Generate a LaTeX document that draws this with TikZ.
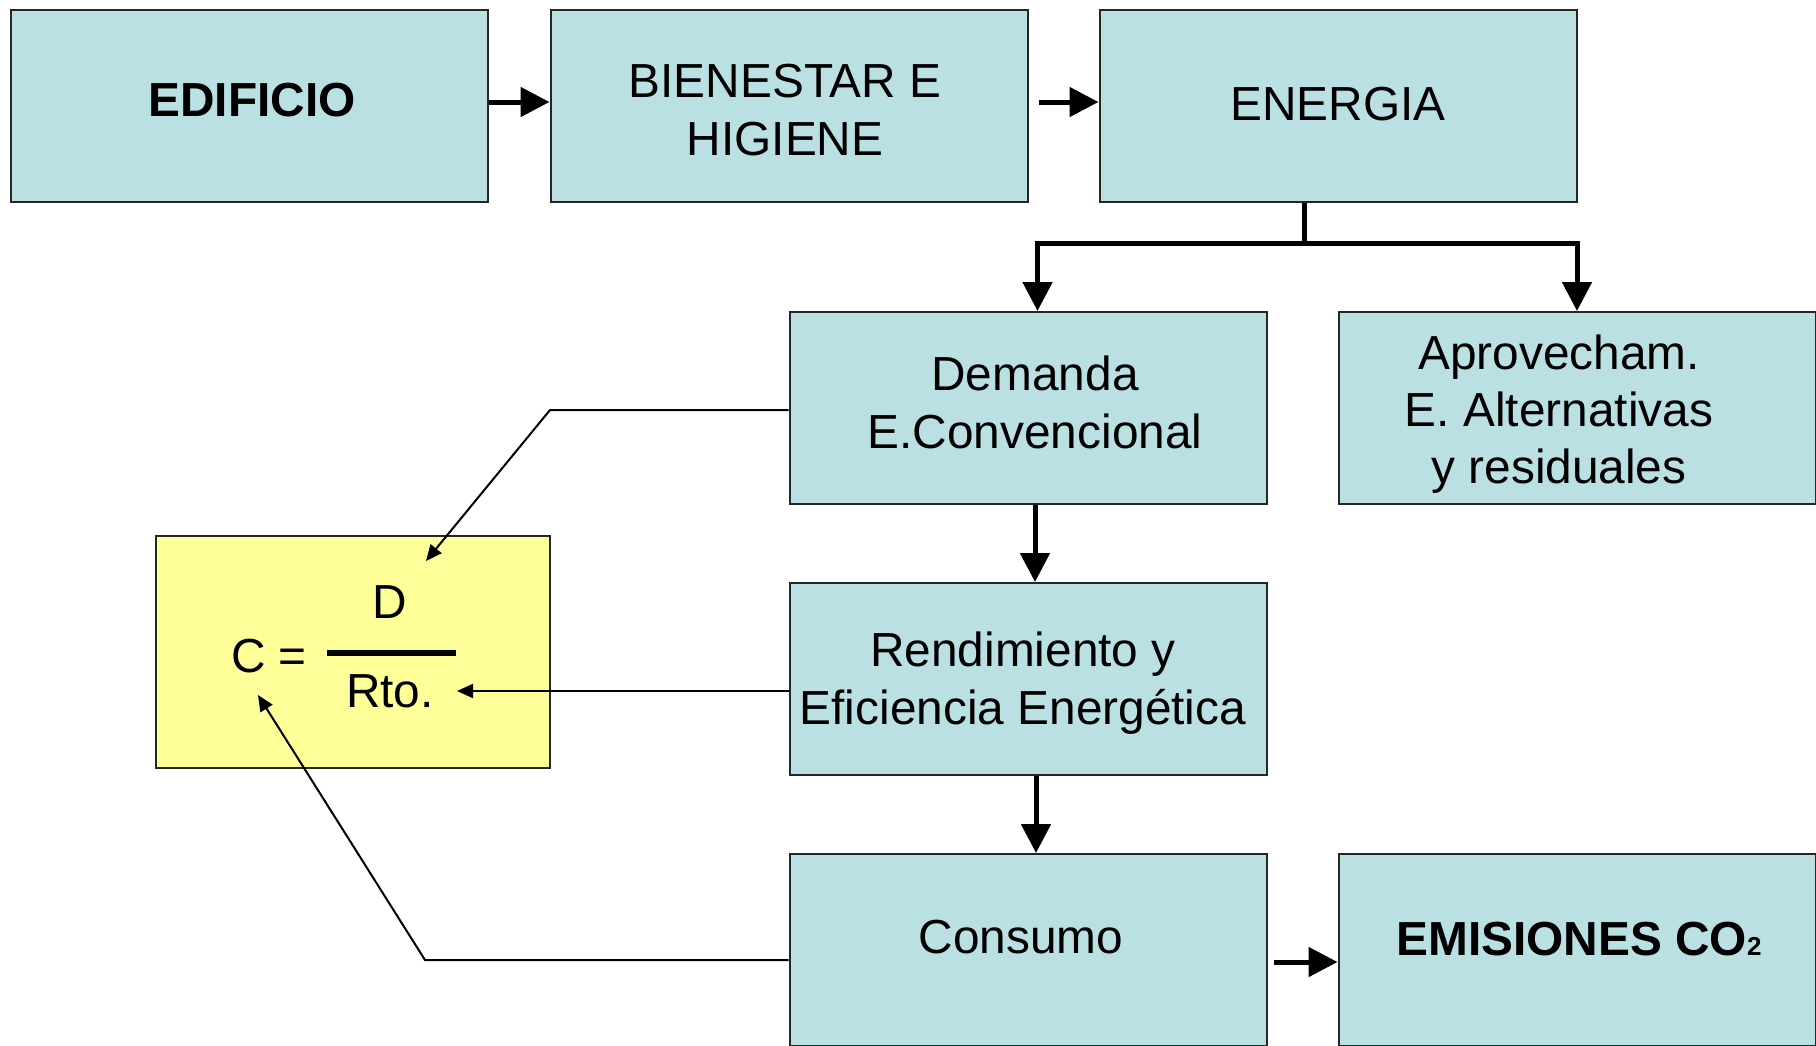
\documentclass[tikz,border=0pt]{standalone}
\usepackage{fontspec}
\setmainfont{Liberation Sans}
\usetikzlibrary{arrows.meta}
\definecolor{boxblue}{HTML}{BBE0E3}
\definecolor{boxyellow}{HTML}{FFFF99}
\begin{document}
\begin{tikzpicture}[x=1pt,y=-1pt,
  bluebox/.style={draw=black!85, line width=2pt, fill=boxblue, minimum width=477pt, minimum height=192pt, inner sep=0pt},
  yelbox/.style={draw=black!85, line width=2pt, fill=boxyellow, minimum width=394pt, minimum height=232pt, inner sep=0pt},
  txt/.style={font=\fontsize{47.8}{56}\selectfont, inner sep=0pt, align=center},
  btxt/.style={font=\fontsize{47.8}{56}\selectfont\bfseries, inner sep=0pt, align=center},
  thk/.style={line width=5pt, line join=miter},
  thkarrow/.style={line width=5pt, -{Triangle[length=29pt,width=29pt]}},
  thinarrow/.style={line width=2pt, -{Triangle[length=16pt,width=14pt]}}
]
\useasboundingbox (0,0) rectangle (1816,1045);

% boxes
\node[bluebox] (edif) at (249,106) {};
\node[bluebox] (bien) at (789,106) {};
\node[bluebox] (energ) at (1338,106) {};
\node[bluebox] (dem) at (1028,408) {};
\node[bluebox] (apro) at (1577,408) {};
\node[bluebox] (rend) at (1028,679) {};
\node[bluebox] (cons) at (1028,950) {};
\node[bluebox] (emis) at (1577,950) {};
\node[yelbox] (form) at (353,652) {};

% texts
\node[btxt, anchor=base] (edift) at (252,116) {EDIFICIO};
\node[txt, anchor=base] (bient1) at (785,97) {BIENESTAR E};
\node[txt, anchor=base] (bient2) at (785,155) {HIGIENE};
\node[txt, anchor=base] (energt) at (1338,120) {ENERGIA};
\node[txt, anchor=base] (demt1) at (1035,390) {Demanda};
\node[txt, anchor=base] (demt2) at (1035,448) {E.Convencional};
\node[txt, anchor=base] (aprot1) at (1559,369) {Aprovecham.};
\node[txt, anchor=base] (aprot2) at (1559,426) {E. Alternativas};
\node[txt, anchor=base] (aprot3) at (1559,483) {y residuales};
\node[txt, anchor=base] (rendt1) at (1023,666) {Rendimiento y};
\node[txt, anchor=base] (rendt2) at (1023,724) {Eficiencia Energética};
\node[txt, anchor=base] (const) at (1021,953) {Consumo};
\node[btxt, anchor=base] (emist) at (1579,955) {EMISIONES CO{\fontsize{26}{26}\selectfont 2}};

% formula
\node[txt, anchor=base] (fc) at (269,672) {C =};
\node[txt, anchor=base] (fd) at (390,618) {D};
\node[txt, anchor=base] (fr) at (390,707) {Rto.};
\coordinate (barl) at (327,653);
\coordinate (barr) at (456,653);
\draw[line width=5.5pt] (barl) -- (barr);

% thick connectors
\draw[thkarrow] ([yshift=4pt]edif.east) -- ([yshift=4pt]bien.west);
\draw[thkarrow] ([xshift=10pt,yshift=4pt]bien.east) -- ([yshift=4pt]energ.west);
\coordinate (j) at (1304,243);
\coordinate (jl) at (1037.5,243);
\coordinate (jr) at (1577,243);
\draw[thk] ([xshift=-34pt]energ.south) -- (j);
\draw[thk, {Triangle[length=29pt,width=29pt]}-{Triangle[length=29pt,width=29pt]}]
  (jl |- dem.north) -- (jl) -- (jr) -- (jr |- apro.north);
\draw[thkarrow] ([xshift=7pt]dem.south) -- ([xshift=7pt]rend.north);
\draw[thkarrow] ([xshift=8pt]rend.south) -- ([xshift=8pt]cons.north);
\draw[thkarrow] ([xshift=6pt,yshift=-12pt]cons.east) -- ([yshift=-12pt]emis.west);

% thin connectors
\coordinate (d1) at (550,410);
\coordinate (d2) at (426,561);
\draw[thinarrow] ([yshift=-2pt]dem.west) -- (d1) -- (d2);
\coordinate (r1) at (457,691);
\draw[thinarrow] ([yshift=-12pt]rend.west) -- (r1);
\coordinate (c1) at (425,960);
\coordinate (c2) at (258,695);
\draw[thinarrow] ([yshift=-10pt]cons.west) -- (c1) -- (c2);
\end{tikzpicture}
\end{document}
